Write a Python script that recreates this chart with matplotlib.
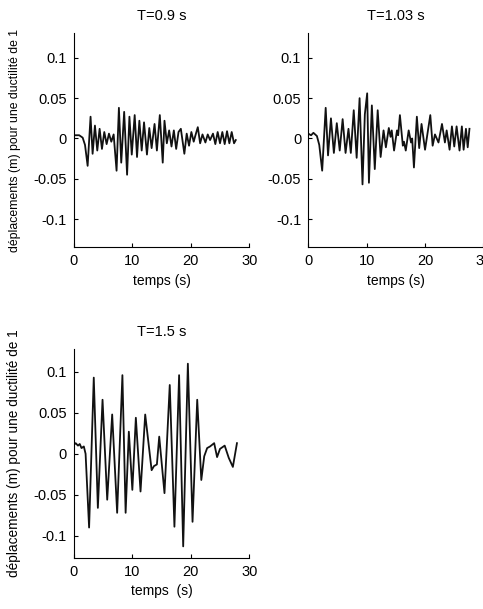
import matplotlib
matplotlib.use("Agg")
import matplotlib.pyplot as plt

plt.rcParams['font.family'] = ['Liberation Sans', 'DejaVu Sans']
plt.rcParams['axes.unicode_minus'] = False

titles = ["T=0.9 s", "T=1.03 s", "T=1.5 s"]
ylabel = "déplacements (m) pour une ductilité de 1"
xlabels = ["temps (s)", "temps (s)", "temps  (s)"]
xticks = [0, 10, 20, 30]
yticks = [-0.1, -0.05, 0, 0.05, 0.1]
ytick_labels = ["-0.1", "-0.05", "0", "0.05", "0.1"]

# T = 0.9 s  (extrema)
t_09 = [0.0, 0.9, 1.5, 1.9, 2.35, 2.85, 3.2, 3.6, 4.0, 4.4, 4.8, 5.2, 5.6, 6.0, 6.4,
        6.8, 7.3, 7.7, 8.1, 8.6, 9.1, 9.5, 9.9, 10.4, 10.8, 11.2, 11.6, 12.0, 12.5,
        12.9, 13.3, 13.8, 14.2, 14.7, 15.2, 15.5, 15.9, 16.3, 16.7, 17.1, 17.5, 17.9,
        18.3, 18.9, 19.3, 19.7, 20.1, 20.5, 20.8, 21.2, 21.6, 22.0, 22.5, 22.9, 23.3,
        23.8, 24.2, 24.6, 25.0, 25.4, 25.8, 26.2, 26.6, 27.0, 27.4, 27.7]
d_09 = [0.004, 0.004, 0.001, -0.008, -0.034, 0.027, -0.019, 0.016, -0.015, 0.012,
        -0.013, 0.008, -0.007, 0.006, -0.004, 0.005, -0.04, 0.038, -0.03, 0.033,
        -0.045, 0.027, -0.02, 0.029, -0.023, 0.022, -0.015, 0.02, -0.02, 0.013,
        -0.012, 0.018, -0.015, 0.029, -0.03, 0.022, -0.006, 0.01, -0.01, 0.01,
        -0.013, 0.008, 0.012, -0.019, 0.006, -0.009, 0.008, -0.004, 0.004, 0.014,
        -0.006, 0.005, -0.005, 0.005, -0.002, 0.006, -0.007, 0.008, -0.006, 0.008,
        -0.007, 0.009, -0.006, 0.008, -0.006, -0.002]

# T = 1.03 s
t_103 = [0.0, 0.5, 0.9, 1.5, 1.9, 2.4, 3.0, 3.4, 3.9, 4.4, 4.9, 5.4, 5.9, 6.4, 6.9,
         7.3, 7.8, 8.3, 8.8, 9.3, 9.7, 10.1, 10.4, 10.9, 11.4, 11.9, 12.4, 12.9,
         13.3, 13.8, 14.1, 14.3, 14.7, 15.2, 15.4, 15.7, 16.2, 16.4, 16.7, 17.2,
         17.6, 17.8, 18.1, 18.6, 19.0, 19.4, 20.0, 20.5, 20.9, 21.3, 21.7, 22.3,
         22.9, 23.4, 23.7, 24.2, 24.6, 25.0, 25.4, 25.9, 26.3, 26.6, 27.0, 27.3, 27.6]
d_103 = [0.006, 0.004, 0.007, 0.003, -0.008, -0.04, 0.038, -0.021, 0.025, -0.018,
         0.019, -0.015, 0.024, -0.018, 0.012, -0.018, 0.035, -0.024, 0.05, -0.057,
         0.03, 0.056, -0.055, 0.041, -0.038, 0.035, -0.023, 0.01, -0.011, 0.013,
         0.002, 0.01, -0.015, 0.01, 0.004, 0.029, -0.009, -0.004, -0.015, 0.01,
         -0.005, 0.0, -0.036, 0.027, -0.012, 0.018, -0.014, 0.01, 0.029, -0.009,
         0.005, -0.005, 0.018, -0.005, 0.01, -0.014, 0.015, -0.01, 0.015, -0.015,
         0.015, -0.014, 0.012, -0.011, 0.012]

# T = 1.5 s
t_15 = [0.0, 0.3, 0.7, 1.0, 1.3, 1.7, 2.0, 2.3, 2.6, 3.4, 4.1, 4.9, 5.7, 6.55, 7.4,
        8.3, 8.85, 9.4, 10.0, 10.6, 11.4, 12.2, 13.3, 13.7, 14.2, 14.6, 15.5, 16.4,
        17.2, 18.0, 18.7, 19.5, 20.3, 21.1, 21.8, 22.3, 22.8, 23.3, 24.0, 24.5,
        25.0, 25.8, 26.5, 27.2, 27.9]
d_15 = [0.011, 0.013, 0.01, 0.012, 0.007, 0.009, 0.0, -0.045, -0.09, 0.093, -0.066,
        0.066, -0.056, 0.048, -0.072, 0.096, -0.072, 0.027, -0.044, 0.044, -0.046,
        0.048, -0.02, -0.015, -0.013, 0.021, -0.048, 0.084, -0.089, 0.096, -0.113,
        0.11, -0.083, 0.066, -0.032, -0.003, 0.007, 0.009, 0.013, -0.004, 0.006,
        0.01, -0.005, -0.016, 0.013]

series = [(t_09, d_09), (t_103, d_103), (t_15, d_15)]
positions = [[0.153, 0.594, 0.363, 0.352],
             [0.638, 0.594, 0.363, 0.352],
             [0.153, 0.084, 0.363, 0.343]]
ylims = [(-0.135, 0.131), (-0.135, 0.131), (-0.127, 0.128)]

fig = plt.figure(figsize=(4.83, 6.09), dpi=100)

for i in range(3):
    ax = fig.add_axes(positions[i])
    t, d = series[i]
    ax.plot(t, d, color='#111111', lw=1.3)
    ax.set_xlim(0, 30)
    ax.set_ylim(*ylims[i])
    ax.set_xticks(xticks)
    ax.set_yticks(yticks)
    ax.set_yticklabels(ytick_labels)
    ax.spines['top'].set_visible(False)
    ax.spines['right'].set_visible(False)
    ax.tick_params(direction='in', length=3, labelsize=10.5, pad=5)
    ax.set_title(titles[i], fontsize=10.5, pad=9)
    ax.set_xlabel(xlabels[i], fontsize=10, labelpad=4)
    if i != 1:
        ax.set_ylabel(ylabel, fontsize=8.8 if i == 0 else 9.8)
        ax.yaxis.set_label_coords(-0.30, 0.5)

fig.savefig('out.png', dpi=100)
